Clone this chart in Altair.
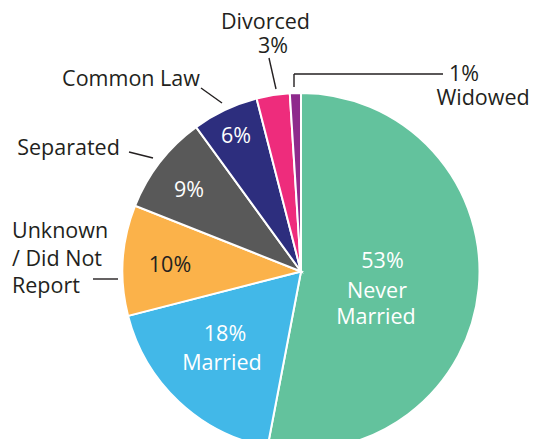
import altair as alt
import pandas as pd

# ---- data ----
categories = ["Never Married", "Married", "Unknown / Did Not Report", "Separated",
              "Common Law", "Divorced", "Widowed"]
values = [53, 18, 10, 9, 6, 3, 1]
colors = ["#63C29D", "#42B8E8", "#FBB24A", "#595959", "#2D2E7E", "#EE2C7C", "#8E2A8C"]

df = pd.DataFrame({"category": categories, "value": values, "idx": list(range(len(values)))})
pct = {c: f"{v}%" for c, v in zip(categories, values)}

# ---- layout (page pixels, chart origin is at page 8,8) ----
OFF = 8
CX, CY, R = 301 - OFF, 271.5 - OFF, 178.5
FONT = "Open Sans"
FS = 21.5
INK = "#231F20"

# text annotations: (text, x, baseline y, colour, align)
ann = [
    (pct["Never Married"], 382.5, 268, "white", "center"),
    ("Never", 377, 298, "white", "center"),
    ("Married", 376, 324, "white", "center"),
    (pct["Married"], 225, 341, "white", "center"),
    ("Married", 222, 370, "white", "center"),
    (pct["Unknown / Did Not Report"], 170, 272, INK, "center"),
    (pct["Separated"], 189, 197, "white", "center"),
    (pct["Common Law"], 236, 143, "white", "center"),
    ("Divorced", 265.5, 29, INK, "center"),
    (pct["Divorced"], 273, 53, INK, "center"),
    ("Common Law", 131, 86, INK, "center"),
    ("Separated", 68.5, 155, INK, "center"),
    (pct["Widowed"], 464, 81, INK, "center"),
    ("Widowed", 483, 105, INK, "center"),
    ("Unknown", 12, 238, INK, "left"),
    ("/ Did Not", 12, 266, INK, "left"),
    ("Report", 12, 293, INK, "left"),
]
ann_df = pd.DataFrame(ann, columns=["text", "x", "y", "color", "align"])
ann_df["x"] = ann_df["x"] - OFF
ann_df["y"] = ann_df["y"] - OFF

leaders = [
    (269, 58, 276, 89),
    (201, 88, 222, 103),
    (129, 152, 153, 158),
    (93, 279, 118, 279),
    (294, 87, 294, 74),
    (294, 74, 443, 74),
]
lead_df = pd.DataFrame(leaders, columns=["x", "y", "x2", "y2"]) - OFF

pie = alt.Chart(df).mark_arc(outerRadius=R, stroke="white", strokeWidth=2).encode(
    theta=alt.Theta("value:Q", stack=True),
    color=alt.Color("category:N", scale=alt.Scale(domain=categories, range=colors), legend=None),
    order=alt.Order("idx:Q"),
    x=alt.value(CX),
    y=alt.value(CY),
)

def text_layer(sub, align):
    return alt.Chart(sub).mark_text(font=FONT, fontSize=FS, align=align, baseline="alphabetic").encode(
        x=alt.X("x:Q", scale=None),
        y=alt.Y("y:Q", scale=None),
        text="text:N",
        color=alt.Color("color:N", scale=None),
    )

texts_c = text_layer(ann_df[ann_df["align"] == "center"], "center")
texts_l = text_layer(ann_df[ann_df["align"] == "left"], "left")

lines = alt.Chart(lead_df).mark_rule(color=INK, strokeWidth=1.4).encode(
    x=alt.X("x:Q", scale=None),
    y=alt.Y("y:Q", scale=None),
    x2="x2:Q",
    y2="y2:Q",
)

chart = alt.layer(pie, lines, texts_c, texts_l).properties(
    width=525, height=431,
    autosize=alt.AutoSizeParams(type="none"),
    padding=0,
).configure_view(stroke=None)

chart.save("out.html", embed_options={"renderer": "svg", "actions": False})
